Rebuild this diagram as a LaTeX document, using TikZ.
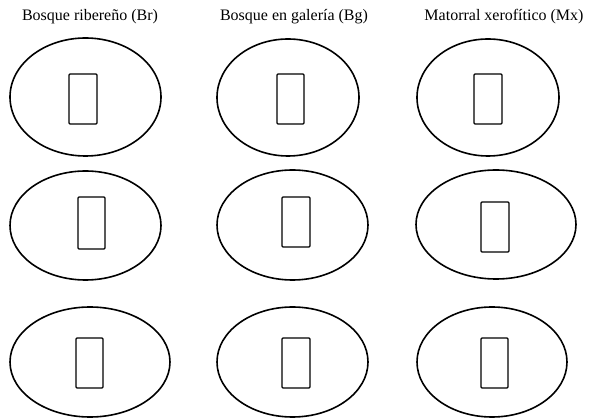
\documentclass[tikz,border=0pt]{standalone}
\usepackage{fontspec}
\setmainfont{Liberation Serif}
\usepackage{tikz}
\usetikzlibrary{positioning}

\tikzset{
  parcela/.style={draw=black, line width=1.6pt},
  cuadro/.style={draw=black, line width=1.2pt, rounded corners=1pt},
  titulo/.style={font=\fontsize{16}{19}\selectfont, anchor=base, inner sep=0pt}
}

\begin{document}
\begin{tikzpicture}[x=1pt, y=-1pt]
  \useasboundingbox (0,0) rectangle (592,419);

  % --- Column titles ---
  \node[titulo] (tBr) at (90,21) {Bosque ribereño (Br)};
  \node[titulo] (tBg) at (294,21) {Bosque en galería (Bg)};
  \node[titulo] (tMx) at (504,21) {Matorral xerofítico (Mx)};

  % --- Column 1: Bosque riberen~o ---
  \draw[parcela] (85.5,97) ellipse [x radius=75.5pt, y radius=59pt];
  \draw[cuadro] (69,74) rectangle (97,124);
  \draw[parcela] (85.5,225.5) ellipse [x radius=75.5pt, y radius=54.5pt];
  \draw[cuadro] (78,197) rectangle (105,249);
  \draw[parcela] (90,362) ellipse [x radius=80pt, y radius=55pt];
  \draw[cuadro] (76,338) rectangle (103,388);

  % --- Column 2: Bosque en galeria ---
  \draw[parcela] (288,97.5) ellipse [x radius=71pt, y radius=58.5pt];
  \draw[cuadro] (277,74) rectangle (304,124);
  \draw[parcela] (292.5,225) ellipse [x radius=75.5pt, y radius=55pt];
  \draw[cuadro] (282,197) rectangle (310,247);
  \draw[parcela] (292.5,362) ellipse [x radius=75.5pt, y radius=55pt];
  \draw[cuadro] (282,338) rectangle (310,388);

  % --- Column 3: Matorral xerofitico ---
  \draw[parcela] (488,97.5) ellipse [x radius=71pt, y radius=58.5pt];
  \draw[cuadro] (474,74) rectangle (502,124);
  \draw[parcela] (496,224.5) ellipse [x radius=80pt, y radius=54.5pt];
  \draw[cuadro] (481,202) rectangle (509,252);
  \draw[parcela] (492,362) ellipse [x radius=75pt, y radius=55pt];
  \draw[cuadro] (481,338) rectangle (508,388);
\end{tikzpicture}
\end{document}
